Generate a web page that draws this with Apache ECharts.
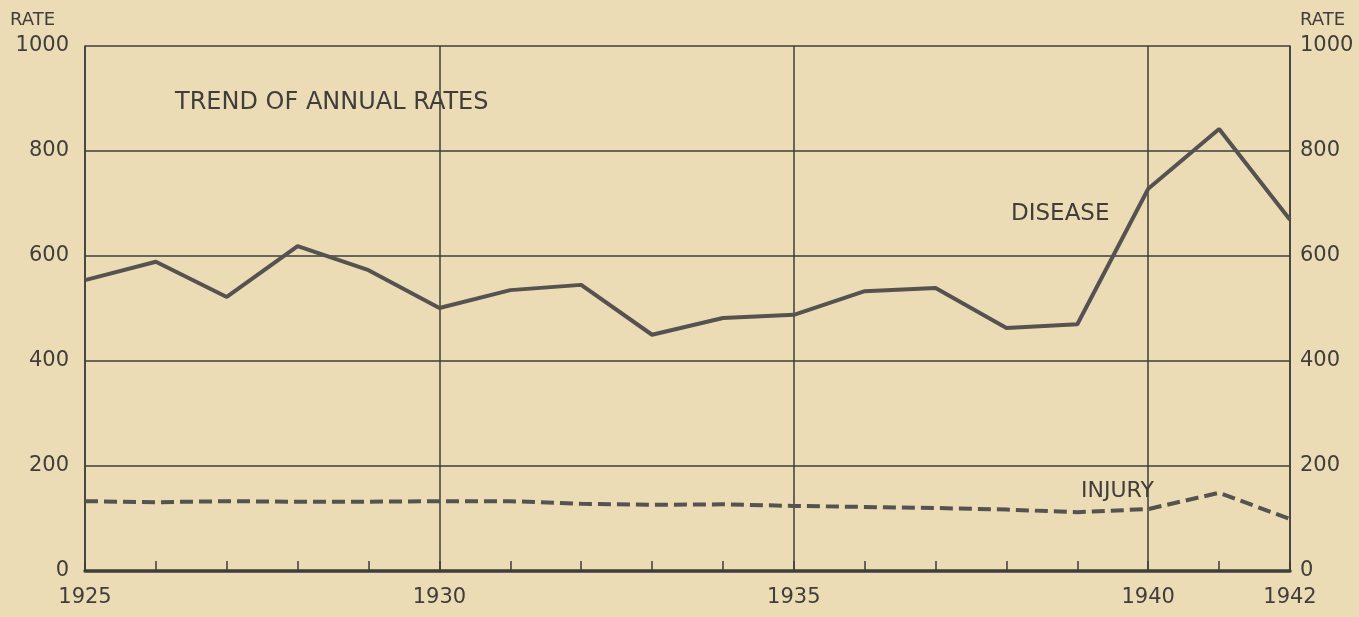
<!DOCTYPE html>
<html>
<head>
<meta charset="utf-8">
<script src="https://cdn.jsdelivr.net/npm/echarts@6/dist/echarts.min.js"></script>
<style>
  html, body { margin: 0; padding: 0; background: #ebdcb6; }
  #chart { width: 1359px; height: 617px; }
</style>
</head>
<body>
<div id="chart"></div>
<script>
const years = ['1925','1926','1927','1928','1929','1930','1931','1932','1933',
  '1934','1935','1936','1937','1938','1939','1940','1941','1942']
const disease = [554, 589, 522, 619, 573, 501, 535, 545, 450, 482, 488, 533, 539, 463, 470, 728, 842, 669]
const injury = [133, 131, 133, 132, 132, 133, 133, 128, 126, 127, 124, 122, 120, 117, 112, 118, 149, 99]
const shownYears = ['1925', '1930', '1935', '1940', '1942']

const INK = '#403d3a'
const FONT = 'DejaVu Sans'

const chart = echarts.init(document.getElementById('chart'))

const yAxisBase = {
  type: 'value',
  min: 0,
  max: 1000,
  interval: 200,
  axisLine: { show: true, lineStyle: { color: INK, width: 1.5 } },
  axisTick: { show: false },
  splitLine: { show: true, lineStyle: { color: INK, width: 1.5 } },
  axisLabel: { color: INK, fontSize: 21, fontFamily: FONT, margin: 16, formatter: v => String(v) },
}

chart.setOption({
  backgroundColor: '#ebdcb6',
  animation: false,
  grid: { left: 85, right: 69, top: 46, bottom: 46, outerBoundsMode: 'none' },
  xAxis: {
    type: 'category',
    data: years,
    boundaryGap: false,
    axisLine: { show: true, lineStyle: { color: INK, width: 3.5 } },
    axisTick: { show: true, inside: true, length: 10, interval: 0, lineStyle: { color: INK, width: 1.5 } },
    axisLabel: {
      color: INK, fontSize: 21, fontFamily: FONT, margin: 16,
      interval: (i, v) => shownYears.includes(v),
    },
    splitLine: {
      show: true,
      interval: (i, v) => shownYears.includes(v),
      lineStyle: { color: INK, width: 1.5 },
    },
  },
  yAxis: [
    { ...yAxisBase, position: 'left' },
    {
      ...yAxisBase, position: 'right', splitLine: { show: false },
      axisLabel: { ...yAxisBase.axisLabel, margin: 10 },
    },
  ],
  title: {
    text: 'TREND OF ANNUAL RATES',
    left: 170,
    top: 86,
    textStyle: { color: INK, fontSize: 24, fontWeight: 'normal', fontFamily: FONT },
  },
  series: [
    {
      name: 'DISEASE',
      type: 'line',
      data: disease,
      symbol: 'none',
      lineStyle: { color: '#555250', width: 4 },
      z: 5,
    },
    {
      name: 'INJURY',
      type: 'line',
      data: injury,
      symbol: 'none',
      lineStyle: { color: '#555250', width: 4, type: [13, 6] },
      z: 5,
    },
  ],
  graphic: [
    { type: 'text', left: 10, top: 11, style: { text: 'RATE', fill: INK, font: '18px "DejaVu Sans"' } },
    { type: 'text', left: 1300, top: 11, style: { text: 'RATE', fill: INK, font: '18px "DejaVu Sans"' } },
    { type: 'text', left: 1011, top: 203, style: { text: 'DISEASE', fill: INK, font: '23px "DejaVu Sans"' } },
    { type: 'text', left: 1081, top: 480, style: { text: 'INJURY', fill: INK, font: '22px "DejaVu Sans"' } },
  ],
})
</script>
</body>
</html>
